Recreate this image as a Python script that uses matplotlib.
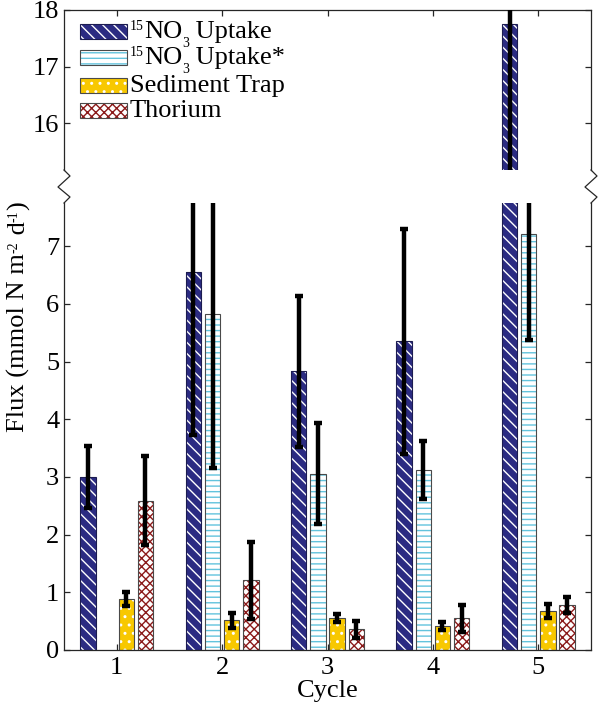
import numpy as np
import matplotlib
matplotlib.use('Agg')
import matplotlib.pyplot as plt
from matplotlib.lines import Line2D
from matplotlib.patches import Rectangle

# ---------------- data ----------------
cycles = [1, 2, 3, 4, 5]
# legend labels as (text, role) runs: role 'n' normal, 'sup' superscript, 'sub' subscript
series_labels = [
    [('15', 'sup'), ('NO', 'n'), ('3', 'sub'), (' Uptake', 'n')],
    [('15', 'sup'), ('NO', 'n'), ('3', 'sub'), (' Uptake*', 'n')],
    [('Sediment Trap', 'n')],
    [('Thorium', 'n')],
]
ylabel_runs = [('Flux (mmol N m', 'n'), ('-2', 'sup'), (' d', 'n'), ('-1', 'sup'), (')', 'n')]
xlabel = 'Cycle'

no3_uptake = [3.00, 6.55, 4.83, 5.35, 17.75]
no3_uptake_err = [0.53, 2.82, 1.31, 1.95, 3.0]
no3_uptake_star = [np.nan, 5.82, 3.06, 3.12, 7.22]
no3_uptake_star_err = [np.nan, 2.67, 0.87, 0.50, 1.84]
sediment_trap = [0.88, 0.52, 0.56, 0.42, 0.68]
sediment_trap_err = [0.12, 0.13, 0.07, 0.07, 0.12]
thorium = [2.59, 1.21, 0.36, 0.55, 0.78]
thorium_err = [0.77, 0.67, 0.15, 0.23, 0.14]

values = [no3_uptake, no3_uptake_star, sediment_trap, thorium]
errors = [no3_uptake_err, no3_uptake_star_err, sediment_trap_err, thorium_err]

styles = [
    dict(face='#2b2b82', hatch='\\\\\\', hcolor='white', edge='#1c1c50'),
    dict(face='white', hatch='---', hcolor='#62c3dd', edge='#4a4a4a'),
    dict(face='#f8c800', hatch='..', hcolor='white', edge='#4a4a4a'),
    dict(face='white', hatch='xxxx', hcolor='#8b1a1a', edge='#4a4a4a'),
]

plt.rcParams['font.family'] = ['Liberation Serif', 'DejaVu Serif']
plt.rcParams['hatch.linewidth'] = 1.0

W, H = 598, 706
fig = plt.figure(figsize=(W / 100, H / 100), dpi=100)
renderer = fig.canvas.get_renderer()

left_px, right_px = 64, 591
top_top, top_bot = 10, 170
bot_top, bot_bot = 203, 650

FS = 19        # main font size
FS_SMALL = 10  # sub/superscript size
SHIFT = {'n': 0, 'sup': -8, 'sub': 9}
SIZE = {'n': FS, 'sup': FS_SMALL, 'sub': FS_SMALL}


def ax_rect(t, b):
    return [left_px / W, (H - b) / H, (right_px - left_px) / W, (b - t) / H]


ax_top = fig.add_axes(ax_rect(top_top, top_bot))
ax_bot = fig.add_axes(ax_rect(bot_top, bot_bot))

n = len(values)
step = 0.182
width = 0.145
x = np.array(cycles, dtype=float)

spine_col = '#262626'
for ax in (ax_top, ax_bot):
    for i, (vals, errs, st) in enumerate(zip(values, errors, styles)):
        xi = x + (i - (n - 1) / 2) * step
        ax.bar(xi, vals, width, color=st['face'], edgecolor=st['hcolor'],
               hatch=st['hatch'], linewidth=0, zorder=2)
        ax.bar(xi, vals, width, fill=False, edgecolor=st['edge'],
               linewidth=0.8, zorder=3)
        ax.errorbar(xi, vals, yerr=errs, fmt='none', ecolor='black',
                    elinewidth=3.2, capsize=2.8, capthick=3.2, zorder=4)
    ax.set_xlim(0.5, 5.5)
    for s in ax.spines.values():
        s.set_color(spine_col)
        s.set_linewidth(0.9)
    ax.tick_params(direction='in', length=4, width=0.9, color=spine_col,
                   labelsize=FS, right=True)

ax_top.set_ylim(15.17, 18)
ax_top.set_yticks([16, 17, 18])
ax_top.spines['bottom'].set_visible(False)
ax_top.tick_params(axis='x', bottom=False, labelbottom=False, top=True)
ax_top.set_xticks(cycles)

ax_bot.set_ylim(0, 7.75)
ax_bot.set_yticks(range(0, 8))
ax_bot.spines['top'].set_visible(False)
ax_bot.set_xticks(cycles)
ax_bot.set_xticklabels([str(c) for c in cycles])
ax_bot.tick_params(axis='x', top=False, pad=5)
ax_bot.set_xlabel(xlabel, fontsize=FS, labelpad=1)


def runs_horizontal(x_px, base_px, runs):
    cur = x_px
    for s, role in runs:
        t = fig.text(cur / W, 1 - (base_px + SHIFT[role]) / H, s,
                     fontsize=SIZE[role], va='baseline', ha='left', zorder=6)
        cur = t.get_window_extent(renderer).x1


def runs_vertical(base_x_px, start_y_px, runs):
    cur = H - start_y_px  # display coords (from bottom)
    for s, role in runs:
        t = fig.text((base_x_px + SHIFT[role]) / W, cur / H, s,
                     fontsize=SIZE[role], rotation=90, rotation_mode='anchor',
                     va='baseline', ha='left', zorder=6)
        cur = t.get_window_extent(renderer).y1


# y label
runs_vertical(25, 432, ylabel_runs)

# broken-axis zigzags
for sx in (left_px, right_px):
    px = [sx, sx + 6, sx - 6, sx + 6, sx]
    py = [top_bot, 176, 187, 197, bot_top]
    fig.add_artist(Line2D([p / W for p in px], [1 - p / H for p in py],
                          color=spine_col, linewidth=0.9))

# legend (drawn manually so rows match the reference spacing)
row_tops = [24, 50, 78, 103]
hx0, hx1, hh = 80, 127, 15
for top, st, lab in zip(row_tops, styles, series_labels):
    xy = (hx0 / W, 1 - (top + hh) / H)
    wfrac, hfrac = (hx1 - hx0) / W, hh / H
    fig.add_artist(Rectangle(xy, wfrac, hfrac, transform=fig.transFigure,
                             facecolor=st['face'], edgecolor=st['hcolor'],
                             hatch=st['hatch'], linewidth=0, zorder=5))
    fig.add_artist(Rectangle(xy, wfrac, hfrac, transform=fig.transFigure,
                             fill=False, edgecolor=st['edge'], linewidth=0.8,
                             zorder=6))
    runs_horizontal(hx1 + 3, top + hh - 1, lab)

fig.savefig('out.png', dpi=100)
